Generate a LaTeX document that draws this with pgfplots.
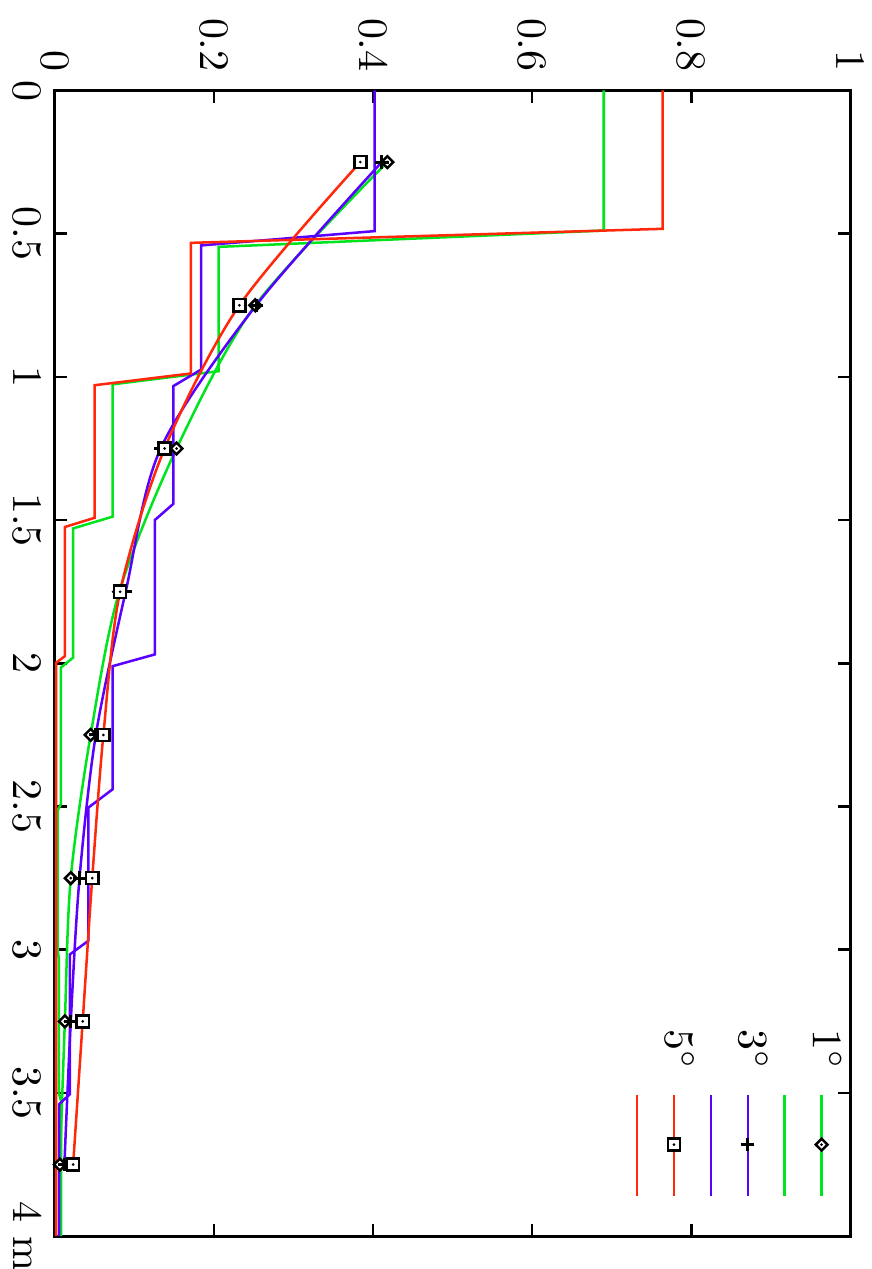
\documentclass[border=0pt]{standalone}
\usepackage{pgfplots}
\pgfplotsset{compat=1.18}
\definecolor{cg}{RGB}{0,228,30}
\definecolor{cb}{RGB}{90,0,255}
\definecolor{cr}{RGB}{255,40,10}
\pgfdeclareplotmark{sqdot}{%
  \pgfpathrectangle{\pgfqpoint{-\pgfplotmarksize}{-\pgfplotmarksize}}{\pgfqpoint{2\pgfplotmarksize}{2\pgfplotmarksize}}%
  \pgfsetfillcolor{white}\pgfusepathqfillstroke
  \pgfpathcircle{\pgfpointorigin}{0.35pt}\pgfsetfillcolor{black}\pgfusepathqfill}
\pgfdeclareplotmark{diadot}{%
  \pgfpathmoveto{\pgfqpoint{0pt}{\pgfplotmarksize}}%
  \pgfpathlineto{\pgfqpoint{\pgfplotmarksize}{0pt}}%
  \pgfpathlineto{\pgfqpoint{0pt}{-\pgfplotmarksize}}%
  \pgfpathlineto{\pgfqpoint{-\pgfplotmarksize}{0pt}}%
  \pgfpathclose
  \pgfsetfillcolor{white}\pgfusepathqfillstroke
  \pgfpathcircle{\pgfpointorigin}{0.35pt}\pgfsetfillcolor{black}\pgfusepathqfill}
\begin{document}
\begin{tikzpicture}[rotate=-90,transform shape]
\begin{axis}[
  scale only axis,
  width=273.2pt, height=189.7pt,
  xmin=0, xmax=4, ymin=0, ymax=1,
  xtick={0,0.5,1,1.5,2,2.5,3,3.5,4},
  xticklabels={0,0.5,1,1.5,2,2.5,3,3.5,{\makebox[9pt][c]{4 m}}},
  xticklabel style={inner ysep=3.0pt},
  ytick={0,0.2,0.4,0.6,0.8,1},
  yticklabels={0,0.2,0.4,0.6,0.8,1},
  yticklabel style={inner xsep=4.3pt, inner ysep=1.6pt},
  tick align=inside,
  major tick length=3pt,
  tick style={line width=0.6pt, black},
  axis line style={line width=0.7pt},
  every axis plot/.append style={line width=0.6pt},
  legend plot pos=right,
  legend cell align=right,
  legend style={draw=none, fill=none, inner sep=0pt, outer sep=0pt,
    at={(0.966,0.987)}, anchor=north east,
    row sep=0pt, column sep=5.5pt,
    nodes={inner sep=0pt, outer sep=0pt, text height=6.5pt, text depth=2.3pt}},
  legend image code/.code={\draw[mark repeat=2,mark phase=2,#1] plot coordinates {(0cm,0cm) (0.42cm,0cm) (0.85cm,0cm)};},
]
% 1 degree
\addplot[cg, smooth, mark=diadot, mark size=1.4pt, mark options={black, solid, line width=0.6pt}] coordinates {
(0.25,0.418) (0.75,0.252) (1.25,0.153) (1.75,0.081) (2.25,0.045) (2.75,0.020) (3.25,0.0126) (3.75,0.0063)};
\addlegendentry{$1^\circ$}
\addplot[cg] coordinates {
(0,0.690) (0.489,0.690) (0.546,0.206) (0.98,0.206) (1.026,0.0725) (1.488,0.0725) (1.529,0.023) (1.98,0.023) (2.015,0.0075) (2.492,0.0075) (2.515,0.0034) (3.0,0.0034) (3.03,0.005) (3.5,0.005) (3.53,0.008) (4,0.008)};
\addlegendentry{}
% 3 degrees
\addplot[cb, smooth, mark=+, mark size=1.6pt, mark options={black, solid, line width=0.7pt}] coordinates {
(0.25,0.411) (0.75,0.253) (1.25,0.133) (1.75,0.089) (2.25,0.0515) (2.75,0.031) (3.25,0.020) (3.75,0.012)};
\addlegendentry{$3^\circ$}
\addplot[cb] coordinates {
(0,0.402) (0.491,0.402) (0.541,0.184) (0.974,0.184) (1.032,0.149) (1.443,0.149) (1.5,0.1256) (1.969,0.1256) (2.01,0.0725) (2.44,0.0725) (2.504,0.042) (2.969,0.042) (3.016,0.019) (3.504,0.019) (3.539,0.0055) (4,0.0055)};
\addlegendentry{}
% 5 degrees
\addplot[cr, smooth, mark=sqdot, mark size=1.45pt, mark options={black, solid, line width=0.6pt}] coordinates {
(0.25,0.384) (0.75,0.232) (1.25,0.138) (1.75,0.082) (2.25,0.061) (2.75,0.047) (3.25,0.035) (3.75,0.023)};
\addlegendentry{$5^\circ$}
\addplot[cr] coordinates {
(0,0.764) (0.483,0.764) (0.532,0.171) (0.988,0.171) (1.029,0.050) (1.492,0.050) (1.524,0.0126) (1.975,0.0126) (1.998,0.0015) (4,0.0015)};
\addlegendentry{}
\end{axis}
\end{tikzpicture}
\end{document}
